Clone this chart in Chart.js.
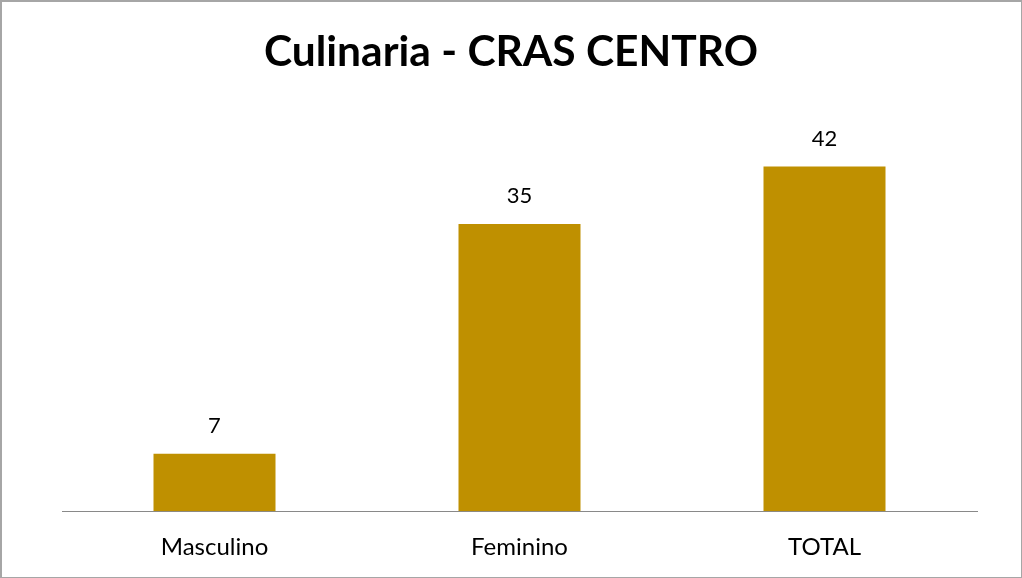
<!DOCTYPE html>
<html>
<head>
<meta charset="utf-8">
<script src="https://cdn.jsdelivr.net/npm/chart.js@4/dist/chart.umd.min.js"></script>
<style>
  html, body { margin: 0; padding: 0; background: #fff; }
  #wrap { position: relative; width: 1022px; height: 578px; box-sizing: border-box;
          border: 1px solid #a6a6a6; border-top-width: 2px; border-left-width: 2px; }
</style>
</head>
<body>
<div id="wrap"><canvas id="myChart"></canvas></div>
<script>
const labels = ['Masculino', 'Feminino', 'TOTAL'];
const valores = [7, 35, 42];
const titulo = 'Culinaria - CRAS CENTRO';

// title centred on the whole canvas + value labels above each bar
const textos = {
  id: 'textos',
  afterDatasetsDraw(chart) {
    const ctx = chart.ctx;
    const meta = chart.getDatasetMeta(0);
    ctx.save();
    ctx.fillStyle = '#000';
    ctx.textAlign = 'center';
    ctx.textBaseline = 'middle';
    ctx.font = 'bold 42.5px Lato';
    ctx.fillText(titulo, chart.width / 2 - 0.5, 50);
    ctx.font = '22px Lato';
    meta.data.forEach(function(bar, i) {
      ctx.fillText(String(valores[i]), bar.x, bar.y - 28);
    });
    ctx.restore();
  }
};

const config = {
  type: 'bar',
  data: {
    labels: labels,
    datasets: [{
      data: valores,
      backgroundColor: '#BF9000',
      borderWidth: 0,
      categoryPercentage: 1,
      barPercentage: 0.4
    }]
  },
  options: {
    responsive: true,
    maintainAspectRatio: false,
    animation: false,
    layout: { padding: { top: 140, left: 60, right: 44, bottom: 1 } },
    plugins: {
      legend: { display: false },
      tooltip: { enabled: false },
      title: { display: false }
    },
    scales: {
      x: {
        grid: { display: false },
        border: { display: true, color: '#898989', width: 1 },
        ticks: { color: '#000', font: { family: 'Lato', size: 24 }, padding: 14 }
      },
      y: {
        display: false,
        min: 0,
        max: 45
      }
    }
  },
  plugins: [textos]
};

var myChart = new Chart(document.getElementById('myChart'), config);
</script>
</body>
</html>
